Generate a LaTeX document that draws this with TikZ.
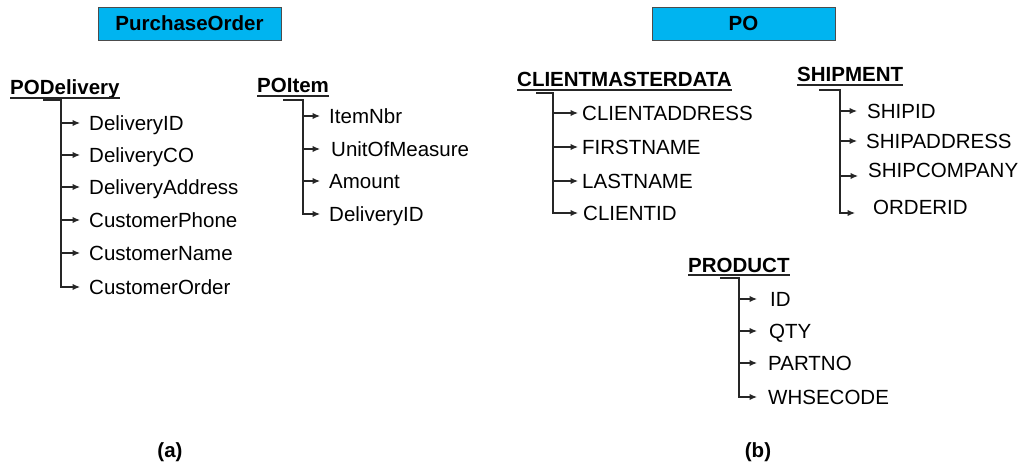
\documentclass[tikz,border=0pt]{standalone}
\usepackage{fontspec}
\setmainfont{Liberation Sans}
\usetikzlibrary{arrows.meta}
\definecolor{boxblue}{HTML}{00B4F0}
\begin{document}
\begin{tikzpicture}[x=1pt,y=-1pt,
  hdr/.style={font=\fontsize{20.5}{24}\selectfont\bfseries, inner sep=0pt, anchor=base west},
  fld/.style={font=\fontsize{20.5}{24}\selectfont, inner sep=0pt, anchor=west, text height=14.7pt, text depth=0pt},
  titlebox/.style={draw=black!70, fill=boxblue, line width=0.9pt, minimum width=183pt, minimum height=33pt, inner sep=0pt, font=\fontsize{20.5}{24}\selectfont\bfseries},
  caption/.style={font=\fontsize{20.5}{24}\selectfont\bfseries, inner sep=0pt},
  link/.style={draw=black!85, line width=1.2pt},
  arr/.style={link, -{Latex[length=7.5pt,width=6.5pt]}},
  uline/.style={draw=black!85, line width=1.3pt}]
\useasboundingbox (0,0) rectangle (1022,465);

% title boxes
\node[titlebox] (tpo) at (189.5,23.5) {PurchaseOrder};
\node[titlebox] (tpo2) at (743.5,23.5) {PO};

% captions
\node[caption] (capa) at (170,452) {(a)};
\node[caption] (capb) at (758,452) {(b)};

% ---------- PODelivery ----------
\node[hdr] (pod) at (10,95) {PODelivery};
\draw[uline] ([yshift=-3pt]pod.base west) -- ([yshift=-3pt]pod.base east);
\coordinate (podA) at (43,100);
\coordinate (podT) at (61,100);
\node[fld] (d1) at (89,123) {DeliveryID};
\node[fld] (d2) at (89,155) {DeliveryCO};
\node[fld] (d3) at (89,187) {DeliveryAddress};
\node[fld] (d4) at (89,220) {CustomerPhone};
\node[fld] (d5) at (89,253) {CustomerName};
\node[fld] (d6) at (89,287) {CustomerOrder};
\draw[arr] (podA) -- (podT) -- (podT |- d6.west) -- ([xshift=-9pt]d6.west);
\foreach \n in {d1,d2,d3,d4,d5}
  \draw[arr] (podT |- \n.west) -- ([xshift=-9pt]\n.west);

% ---------- POItem ----------
\node[hdr] (poi) at (257,93) {POItem};
\draw[uline] ([yshift=-3pt]poi.base west) -- ([yshift=-3pt]poi.base east);
\coordinate (poiA) at (283,100);
\coordinate (poiT) at (303,100);
\node[fld] (i1) at (329,116) {ItemNbr};
\node[fld] (i2) at (331,149) {UnitOfMeasure};
\node[fld] (i3) at (329,181) {Amount};
\node[fld] (i4) at (329,214) {DeliveryID};
\draw[arr] (poiA) -- (poiT) -- (poiT |- i4.west) -- ([xshift=-9pt]i4.west);
\draw[arr] (poiT |- i1.west) -- ([xshift=-9pt]i1.west);
\draw[arr] (poiT |- i2.west) -- ([xshift=-11pt]i2.west);
\draw[arr] (poiT |- i3.west) -- ([xshift=-9pt]i3.west);

% ---------- CLIENTMASTERDATA ----------
\node[hdr] (cmd) at (517,87) {CLIENTMASTERDATA};
\draw[uline] ([yshift=-3pt]cmd.base west) -- ([yshift=-3pt]cmd.base east);
\coordinate (cmdA) at (536,93);
\coordinate (cmdT) at (553,93);
\node[fld] (c1) at (582,113) {CLIENTADDRESS};
\node[fld] (c2) at (582,147) {FIRSTNAME};
\node[fld] (c3) at (582,181) {LASTNAME};
\node[fld] (c4) at (583,213) {CLIENTID};
\draw[arr] (cmdA) -- (cmdT) -- (cmdT |- c4.west) -- ([xshift=-5pt]c4.west);
\foreach \n in {c1,c2,c3}
  \draw[arr] (cmdT |- \n.west) -- ([xshift=-4pt]\n.west);

% ---------- SHIPMENT ----------
\node[hdr] (shp) at (797,82) {SHIPMENT};
\draw[uline] ([yshift=-3pt]shp.base west) -- ([yshift=-3pt]shp.base east);
\coordinate (shpA) at (819,90);
\coordinate (shpT) at (840,90);
\node[fld] (s1) at (867,111) {SHIPID};
\node[fld] (s2) at (866,141) {SHIPADDRESS};
\node[fld] (s3) at (868,170) {SHIPCOMPANY};
\node[fld] (s4) at (873,207) {ORDERID};
\coordinate (s3p) at ([xshift=-10pt,yshift=-6pt]s3.west);
\coordinate (s4p) at ([xshift=-18pt,yshift=-6pt]s4.west);
\draw[arr] (shpA) -- (shpT) -- (shpT |- s4p) -- (s4p);
\draw[arr] (shpT |- s1.west) -- ([xshift=-10pt]s1.west);
\draw[arr] (shpT |- s2.west) -- ([xshift=-9pt]s2.west);
\draw[arr] (shpT |- s3p) -- (s3p);

% ---------- PRODUCT ----------
\node[hdr] (prd) at (688,272) {PRODUCT};
\draw[uline] ([yshift=-3pt]prd.base west) -- ([yshift=-3pt]prd.base east);
\coordinate (prdA) at (720,278);
\coordinate (prdT) at (739,278);
\node[fld] (p1) at (770,299) {ID};
\node[fld] (p2) at (769,331) {QTY};
\node[fld] (p3) at (768,363) {PARTNO};
\node[fld] (p4) at (768,397) {WHSECODE};
\draw[arr] (prdA) -- (prdT) -- (prdT |- p4.west) -- ([xshift=-11pt]p4.west);
\draw[arr] (prdT |- p1.west) -- ([xshift=-13pt]p1.west);
\draw[arr] (prdT |- p2.west) -- ([xshift=-12pt]p2.west);
\draw[arr] (prdT |- p3.west) -- ([xshift=-11pt]p3.west);
\end{tikzpicture}
\end{document}
